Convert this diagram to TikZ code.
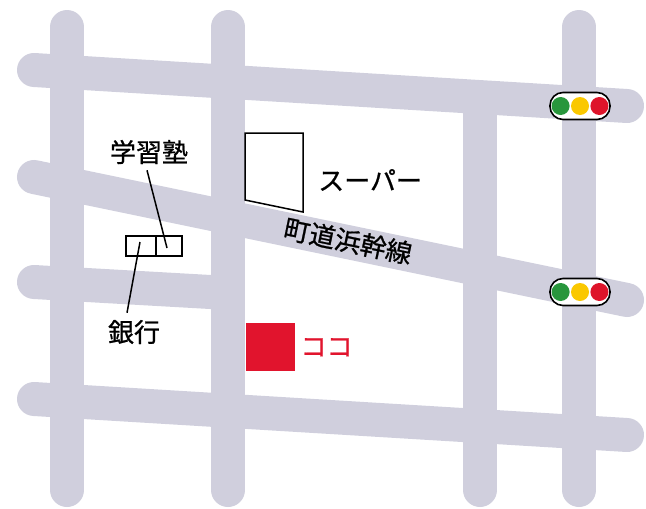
\documentclass[tikz,border=0pt]{standalone}
\usepackage{fontspec}
\setmainfont{Noto Sans CJK JP}
\newfontfamily\jpfont{Noto Sans CJK JP}[FakeBold=0.8]
\usepackage{tikz}
\usetikzlibrary{calc}
\usetikzlibrary{positioning}

\definecolor{roadgray}{RGB}{208,207,221}
\definecolor{siggreen}{RGB}{40,150,60}
\definecolor{sigyellow}{RGB}{250,200,0}
\definecolor{sigred}{RGB}{222,20,42}
\definecolor{kokored}{RGB}{225,20,45}

\begin{document}
\begin{tikzpicture}[x=1pt,y=-1pt,
    road/.style={line width=34pt,line cap=round,roadgray},
    bldg/.style={draw,line width=1.5pt,inner sep=0pt},
    leader/.style={draw,line width=1.5pt},
    lbl/.style={inner sep=0pt,font=\jpfont\fontsize{26}{30}\selectfont},
    lightbox/.style={draw,line width=1.6pt,fill=white,rounded corners=13pt,
      minimum width=60pt,minimum height=27pt,inner sep=0pt},
    lamp/.style={circle,inner sep=0pt,minimum size=18pt}]

  \useasboundingbox (0,0) rectangle (646,509);

  \draw[road] (67,27) -- (67,490);
  \draw[road] (228,27) -- (228,490);
  \draw[road] (480,100) -- (480,490);
  \draw[road] (579,27) -- (579,490);

  \draw[road] (34,70) -- (627,106);
  \draw[road] (34,177) -- (627,300);
  \draw[road] (34,282) -- (228,293);
  \draw[road] (34,399) -- (627,435);

  \node [lbl,rotate=-11.7] (roadlbl) at (348,241) {町道浜幹線};

  \node [lightbox] (sigA) at (580,106) {};
  \node [lamp,fill=sigyellow] (sigAy) at (sigA) {};
  \node [lamp,fill=siggreen,left=1pt of sigAy] (sigAg) {};
  \node [lamp,fill=sigred,right=1pt of sigAy] (sigAr) {};

  \node [lightbox] (sigB) at (580,292) {};
  \node [lamp,fill=sigyellow] (sigBy) at (sigB) {};
  \node [lamp,fill=siggreen,left=1pt of sigBy] (sigBg) {};
  \node [lamp,fill=sigred,right=1pt of sigBy] (sigBr) {};

  \draw [bldg,fill=white] (245,133) -- (303,133) -- (303,212) -- (245,200) -- cycle;
  \node [lbl,anchor=west] (superlbl) at (318,180) {スーパー};

  \node [bldg,minimum width=30pt,minimum height=20pt,anchor=north west] (bank) at (125,235) {};
  \node [bldg,minimum width=26pt,minimum height=20pt,anchor=north west] (juku) at (155,235) {};
  \coordinate (jukuend) at (167,248);
  \coordinate (bankend) at (140,242);

  \node [lbl] (jukulbl) at (149,152) {学習塾};
  \node [lbl] (banklbl) at (134,332) {銀行};

  \path [leader]
    ([xshift=-2pt,yshift=-6pt]jukulbl.south) -- (jukuend)
    ([xshift=-7pt,yshift=7pt]banklbl.north)  -- (bankend);

  \node [fill=kokored,minimum width=49pt,minimum height=48pt,inner sep=0pt,anchor=north west] (here) at (246,323) {};
  \node [lbl,text=kokored,right=5pt of here] (herelbl) {ココ};

\end{tikzpicture}
\end{document}
